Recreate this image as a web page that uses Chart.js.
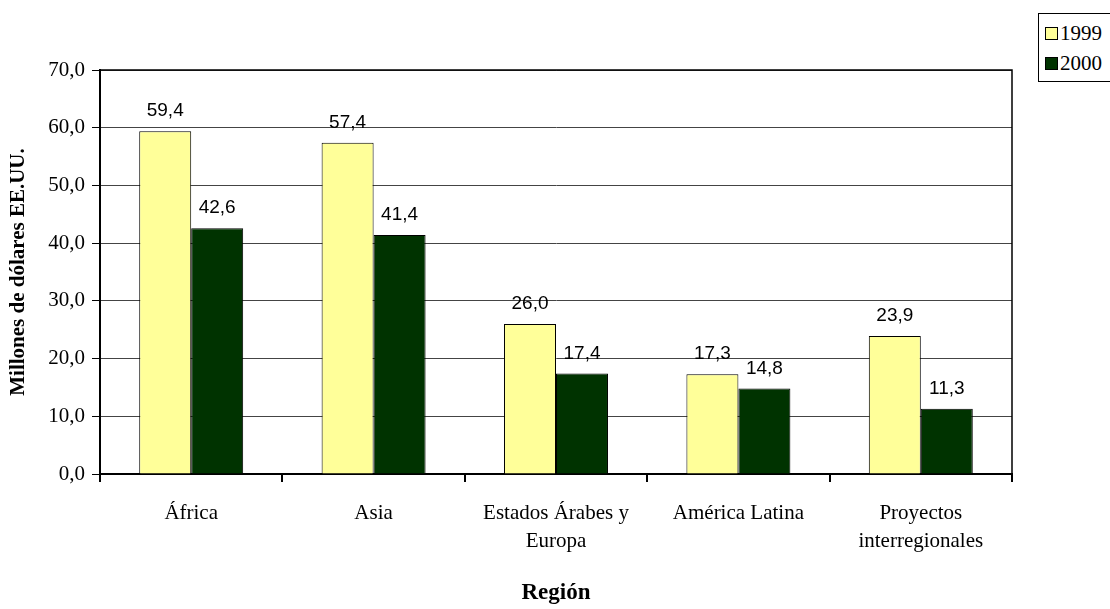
<!DOCTYPE html>
<html>
<head>
<meta charset="utf-8">
<script src="https://cdn.jsdelivr.net/npm/chart.js@4/dist/chart.umd.min.js"></script>
<style>
  html, body { margin: 0; padding: 0; background: #fff; overflow: hidden; }
  #wrap { position: relative; width: 1110px; height: 609px; }
  #legendBox {
    position: absolute; left: 1038px; top: 13px; width: 80px; height: 69px;
    border: 1px solid #000; box-sizing: border-box; background: #fff;
    font-family: "Liberation Serif", "Times New Roman", serif; font-size: 21px; color: #000;
  }
  .lg-row { position: absolute; left: 6px; display: flex; align-items: center; line-height: 24px; }
  .lg-sw { width: 11px; height: 11px; border: 1px solid #000; margin-right: 2px; }
</style>
</head>
<body>
<div id="wrap">
  <canvas id="chart" width="1110" height="609"></canvas>
  <div id="legendBox"></div>
</div>
<script>
/* ── Data ────────────────────────────────────────────────────────────────── */
const REGIONS = [['África'], ['Asia'], ['Estados Árabes y', 'Europa'], ['América Latina'], ['Proyectos', 'interregionales']];
const SERIES_NAMES = ['1999', '2000'];
const VALUES_1999 = [59.4, 57.4, 26.0, 17.3, 23.9];
const VALUES_2000 = [42.6, 41.4, 17.4, 14.8, 11.3];
const Y_TICKS = [0, 10, 20, 30, 40, 50, 60, 70];

const COLORS = ['#FFFF99', '#003300'];
const SERIF = '"Liberation Serif", "Times New Roman", serif';
const SANS  = '"Liberation Sans", Arial, sans-serif';

/** Format number with comma decimal, one place */
const fmt = v => v.toFixed(1).replace('.', ',');

/* ── Plugins ─────────────────────────────────────────────────────────────── */
const plotFrame = {
  id: 'plotFrame',
  afterDatasetsDraw(chart) {
    const { ctx, chartArea: a } = chart;
    ctx.save();
    ctx.strokeStyle = '#000';
    ctx.lineWidth = 1.5;
    ctx.beginPath();
    ctx.moveTo(a.left, a.top);
    ctx.lineTo(a.right, a.top);
    ctx.lineTo(a.right, a.bottom);
    ctx.stroke();
    ctx.restore();
  }
};

const valueLabels = {
  id: 'valueLabels',
  afterDatasetsDraw(chart) {
    const { ctx } = chart;
    ctx.save();
    ctx.font = '19px ' + SANS;
    ctx.fillStyle = '#000';
    ctx.textAlign = 'center';
    ctx.textBaseline = 'middle';
    chart.data.datasets.forEach((ds, di) => {
      chart.getDatasetMeta(di).data.forEach((bar, i) => {
        ctx.fillText(fmt(ds.data[i]), bar.x, bar.y - 20);
      });
    });
    ctx.restore();
  }
};

/* ── Chart ───────────────────────────────────────────────────────────────── */
const chart = new Chart(document.getElementById('chart').getContext('2d'), {
  type: 'bar',
  data: {
    labels: REGIONS,
    datasets: [
      { label: SERIES_NAMES[0], data: VALUES_1999, backgroundColor: COLORS[0], borderColor: '#000', borderWidth: 1 },
      { label: SERIES_NAMES[1], data: VALUES_2000, backgroundColor: COLORS[1], borderColor: '#000', borderWidth: 1 }
    ]
  },
  options: {
    responsive: false,
    animation: false,
    devicePixelRatio: 1,
    layout: { padding: { top: 70, right: 98, left: 0, bottom: 0 } },
    datasets: { bar: { categoryPercentage: 0.57, barPercentage: 1.0 } },
    plugins: { legend: { display: false }, tooltip: { enabled: false } },
    scales: {
      x: {
        afterFit: s => { s.height = 135; },
        grid: { offset: true, drawOnChartArea: false, drawTicks: true, tickLength: 8, color: '#000', lineWidth: 2 },
        border: { display: true, color: '#000', width: 2 },
        ticks: { color: '#000', font: { family: SERIF, size: 21, lineHeight: 1.33 }, padding: 18, maxRotation: 0, autoSkip: false },
        title: { display: true, text: 'Región', color: '#000', font: { family: SERIF, size: 23, weight: 'bold' }, padding: { top: 0, bottom: 2 } }
      },
      y: {
        min: 0, max: 70,
        afterFit: s => { s.width = 100; },
        afterBuildTicks: s => { s.ticks = Y_TICKS.map(v => ({ value: v })); },
        grid: { color: '#444', lineWidth: 1, drawTicks: true, tickLength: 8, tickColor: '#000' },
        border: { display: true, color: '#000', width: 2 },
        ticks: { color: '#000', font: { family: SERIF, size: 21 }, padding: 7, callback: v => fmt(v) },
        title: { display: true, text: 'Millones de dólares EE.UU.', color: '#000', font: { family: SERIF, size: 21, weight: 'bold' }, padding: { top: 6, bottom: 0 } }
      }
    }
  },
  plugins: [plotFrame, valueLabels]
});

/* ── HTML legend ─────────────────────────────────────────────────────────── */
const legendBox = document.getElementById('legendBox');
SERIES_NAMES.forEach((name, i) => {
  const row = document.createElement('div');
  row.className = 'lg-row';
  row.style.top = (7 + i * 30) + 'px';
  row.innerHTML = `<span class="lg-sw" style="background:${COLORS[i]}"></span><span>${name}</span>`;
  legendBox.appendChild(row);
});
</script>
</body>
</html>
